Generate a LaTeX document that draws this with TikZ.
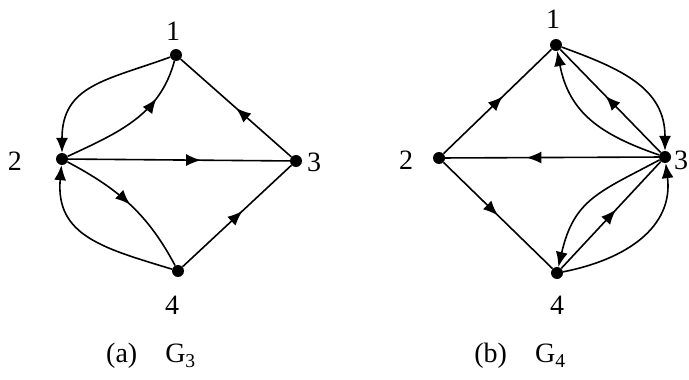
\documentclass[tikz,border=0pt]{standalone}
\usepackage{fontspec}
\setmainfont{Liberation Serif}
\usetikzlibrary{arrows.meta,decorations.markings}

\begin{document}
\begin{tikzpicture}[
        x=1pt, y=-1pt,
        every node/.style={font=\fontsize{28}{32}\selectfont},
        dot/.style={circle, fill=black, minimum size=12pt, inner sep=0pt},
        lbl/.style={inner sep=0pt},
        edge/.style={line width=1.6pt},
        tip/.style={edge, -{Latex[length=15pt,width=12pt]}},
        midarrow/.style={edge, postaction={decorate}, decoration={markings,
            mark=at position #1 with {\arrow{Latex[length=15pt,width=12pt]}}}}
    ]
    \useasboundingbox (0,0) rectangle (689,380);

    % graph G3
    \foreach \n/\x/\y/\lx/\ly in {1/176/55/173/31, 2/62/159/15/161, 3/296/161/314/162, 4/178/271/172/305} {
        \node[dot] (a\n) at (\x,\y) {};
        \node[lbl] (la\n) at (\lx,\ly) {\n};
    }
    \draw[tip, looseness=1.2] (a1) to[out=200, in=90] (a2);
    \draw[midarrow=0.72] (a2) to[out=25, in=-105] (a1);
    \draw[midarrow=0.6] (a2) -- (a3);
    \draw[midarrow=0.5] (a3) -- (a1);
    \draw[midarrow=0.5] (a2) to[out=-28, in=118] (a4);
    \draw[tip, looseness=1.2] (a4) to[out=163, in=-95] (a2);
    \draw[midarrow=0.55] (a4) -- (a3);

    % graph G4
    \foreach \n/\x/\y/\lx/\ly in {1/556/45/553/19, 2/439/158/406/160, 3/665/157/681/160, 4/557/273/557/305} {
        \node[dot] (b\n) at (\x,\y) {};
        \node[lbl] (lb\n) at (\lx,\ly) {\n};
    }
    \draw[midarrow=0.55] (b2) -- (b1);
    \draw[midarrow=0.62] (b3) -- (b2);
    \draw[midarrow=0.5] (b2) -- (b4);
    \draw[midarrow=0.55] (b3) -- (b1);
    \draw[midarrow=0.55] (b4) -- (b3);
    \draw[tip, looseness=1.1] (b1) to[out=-20, in=90] (b3);
    \draw[tip, looseness=1.1] (b3) to[out=161, in=-79] (b1);
    \draw[tip, looseness=1.2] (b3) to[out=208, in=77] (b4);
    \draw[tip, looseness=1.1] (b4) to[out=11, in=-83] (b3);

    % captions
    \node[lbl] (capa) at (151,356) {(a)\quad G\textsubscript{3}};
    \node[lbl] (capb) at (520,356) {(b)\quad G\textsubscript{4}};
\end{tikzpicture}
\end{document}
